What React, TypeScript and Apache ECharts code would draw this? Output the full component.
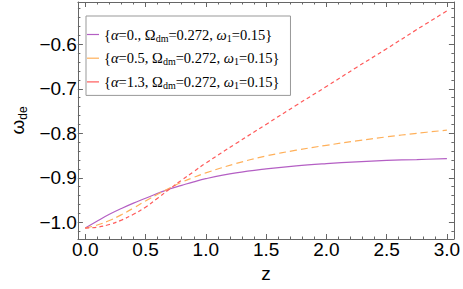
import React, { useEffect, useRef } from "react";
import * as echarts from "echarts";

const zValues = [0, 0.1, 0.2, 0.3, 0.4, 0.5, 0.6, 0.7, 0.8, 0.9, 1.0, 1.25, 1.5, 1.75, 2.0, 2.25, 2.5, 2.75, 3.0];
const wAlpha0 = [-1.013, -0.997, -0.982, -0.969, -0.957, -0.946, -0.935, -0.925, -0.917, -0.909, -0.902, -0.889, -0.880, -0.873, -0.868, -0.864, -0.861, -0.859, -0.857];
const wAlpha05 = [-1.013, -1.006, -0.996, -0.983, -0.968, -0.952, -0.937, -0.923, -0.910, -0.899, -0.889, -0.868, -0.851, -0.838, -0.827, -0.817, -0.808, -0.800, -0.793];
const wAlpha13 = [-1.013, -1.011, -1.005, -0.995, -0.982, -0.966, -0.946, -0.925, -0.905, -0.886, -0.867, -0.823, -0.780, -0.737, -0.695, -0.652, -0.610, -0.567, -0.525];

const alphaLabels = ["0.", "0.5", "1.3"];
const omegaDm = "0.272";
const omega1 = "0.15";
const seriesColors = ["#b45fc4", "#ffb05a", "#ff5a5a"];

const xMajor = [0, 0.5, 1.0, 1.5, 2.0, 2.5, 3.0];
const xMinor = Array.from({ length: 31 }, (_, i) => +(i * 0.1).toFixed(1));
const yMajor = [-1.0, -0.9, -0.8, -0.7, -0.6];
const yMinor = Array.from({ length: 26 }, (_, i) => +(-1.02 + i * 0.02).toFixed(2));

const X_MIN = -0.061, X_MAX = 3.058, Y_MIN = -1.0375, Y_MAX = -0.505;
const FRAME = "#666";

const fmt = (v: number) => v.toFixed(1).replace("-", "\u2212");

export default function App() {
  const ref = useRef<HTMLDivElement>(null);
  useEffect(() => {
    if (!ref.current) return;
    const chart = echarts.init(ref.current, undefined, { renderer: "svg" });
    const names = alphaLabels.map((a) => "alpha=" + a);
    const seriesData = [wAlpha0, wAlpha05, wAlpha13];
    const dashes: any[] = ["solid", [7, 4], [4, 3]];
    const labelStyle = { fontFamily: "Liberation Sans", fontSize: 19, color: "#000" };
    const mkX = (pos: string, major: boolean, labels: boolean) => ({
      type: "value", position: pos, min: X_MIN, max: X_MAX,
      axisLine: { show: major, onZero: false, lineStyle: { color: FRAME, width: 1 } },
      splitLine: { show: false },
      axisTick: { show: true, inside: true, length: major ? 5 : 2.5, customValues: major ? xMajor : xMinor, lineStyle: { color: FRAME } },
      axisLabel: labels ? { show: true, customValues: xMajor, formatter: fmt, margin: 1, ...labelStyle } : { show: false },
      ...(labels ? { name: "z", nameLocation: "middle", nameGap: 24, nameTextStyle: { ...labelStyle } } : {}),
    });
    const mkY = (pos: string, major: boolean, labels: boolean) => ({
      type: "value", position: pos, min: Y_MIN, max: Y_MAX,
      axisLine: { show: major, onZero: false, lineStyle: { color: FRAME, width: 1 } },
      splitLine: { show: false },
      axisTick: { show: true, inside: true, length: major ? 5 : 2.5, customValues: major ? yMajor : yMinor, lineStyle: { color: FRAME } },
      axisLabel: labels ? { show: true, customValues: yMajor, formatter: fmt, margin: 1, ...labelStyle } : { show: false },
      ...(labels ? {
        name: "{w|\u03c9}{d|de}", nameLocation: "middle", nameGap: 42, nameRotate: 90,
        nameTextStyle: { ...labelStyle, rich: { w: { fontFamily: "Liberation Sans", fontSize: 19, lineHeight: 22 }, d: { fontFamily: "Liberation Sans", fontSize: 12, lineHeight: 14, verticalAlign: "bottom" } } },
      } : {}),
    });
    const serif = "Liberation Serif";
    chart.setOption({
      animation: false,
      grid: { left: 72, right: 7, top: 2, bottom: 50, containLabel: false },
      xAxis: [mkX("bottom", true, true), mkX("bottom", false, false), mkX("top", true, false), mkX("top", false, false)],
      yAxis: [mkY("left", true, true), mkY("left", false, false), mkY("right", true, false), mkY("right", false, false)],
      legend: {
        orient: "vertical", left: 86, top: 16,
        padding: [10, 11, 5, 1], itemGap: 6.7,
        backgroundColor: "#fff", borderColor: "#999", borderWidth: 1,
        icon: "rect", itemWidth: 12, itemHeight: 1.2,
        textStyle: { fontFamily: serif, fontSize: 14.5, lineHeight: 17, color: "#000", rich: {
          n: { fontFamily: serif, fontSize: 14.5, lineHeight: 17 },
          i: { fontFamily: serif, fontSize: 14.5, lineHeight: 17, fontStyle: "italic" },
          s: { fontFamily: serif, fontSize: 10, lineHeight: 12, verticalAlign: "bottom" },
        } },
        data: names,
        formatter: (name: string) => {
          const a = alphaLabels[names.indexOf(name)];
          return "{" + `{i|\u03b1}{n|=${a}, }{n|\u03a9}{s|dm}{n|=${omegaDm}, }{i|\u03c9}{s|1}{n|=${omega1}}` + "}";
        },
      },
      series: seriesData.map((d, k) => ({
        name: names[k], type: "line", xAxisIndex: 0, yAxisIndex: 0,
        data: zValues.map((z, i) => [z, d[i]]),
        smooth: 0.4, symbol: "none", showSymbol: false,
        itemStyle: { color: seriesColors[k] },
        lineStyle: { color: seriesColors[k], width: 1.2, type: dashes[k] },
      })),
    });
    return () => chart.dispose();
  }, []);
  return <div ref={ref} style={{ position: "absolute", left: 0, top: 0, width: 463, height: 289 }} />;
}
